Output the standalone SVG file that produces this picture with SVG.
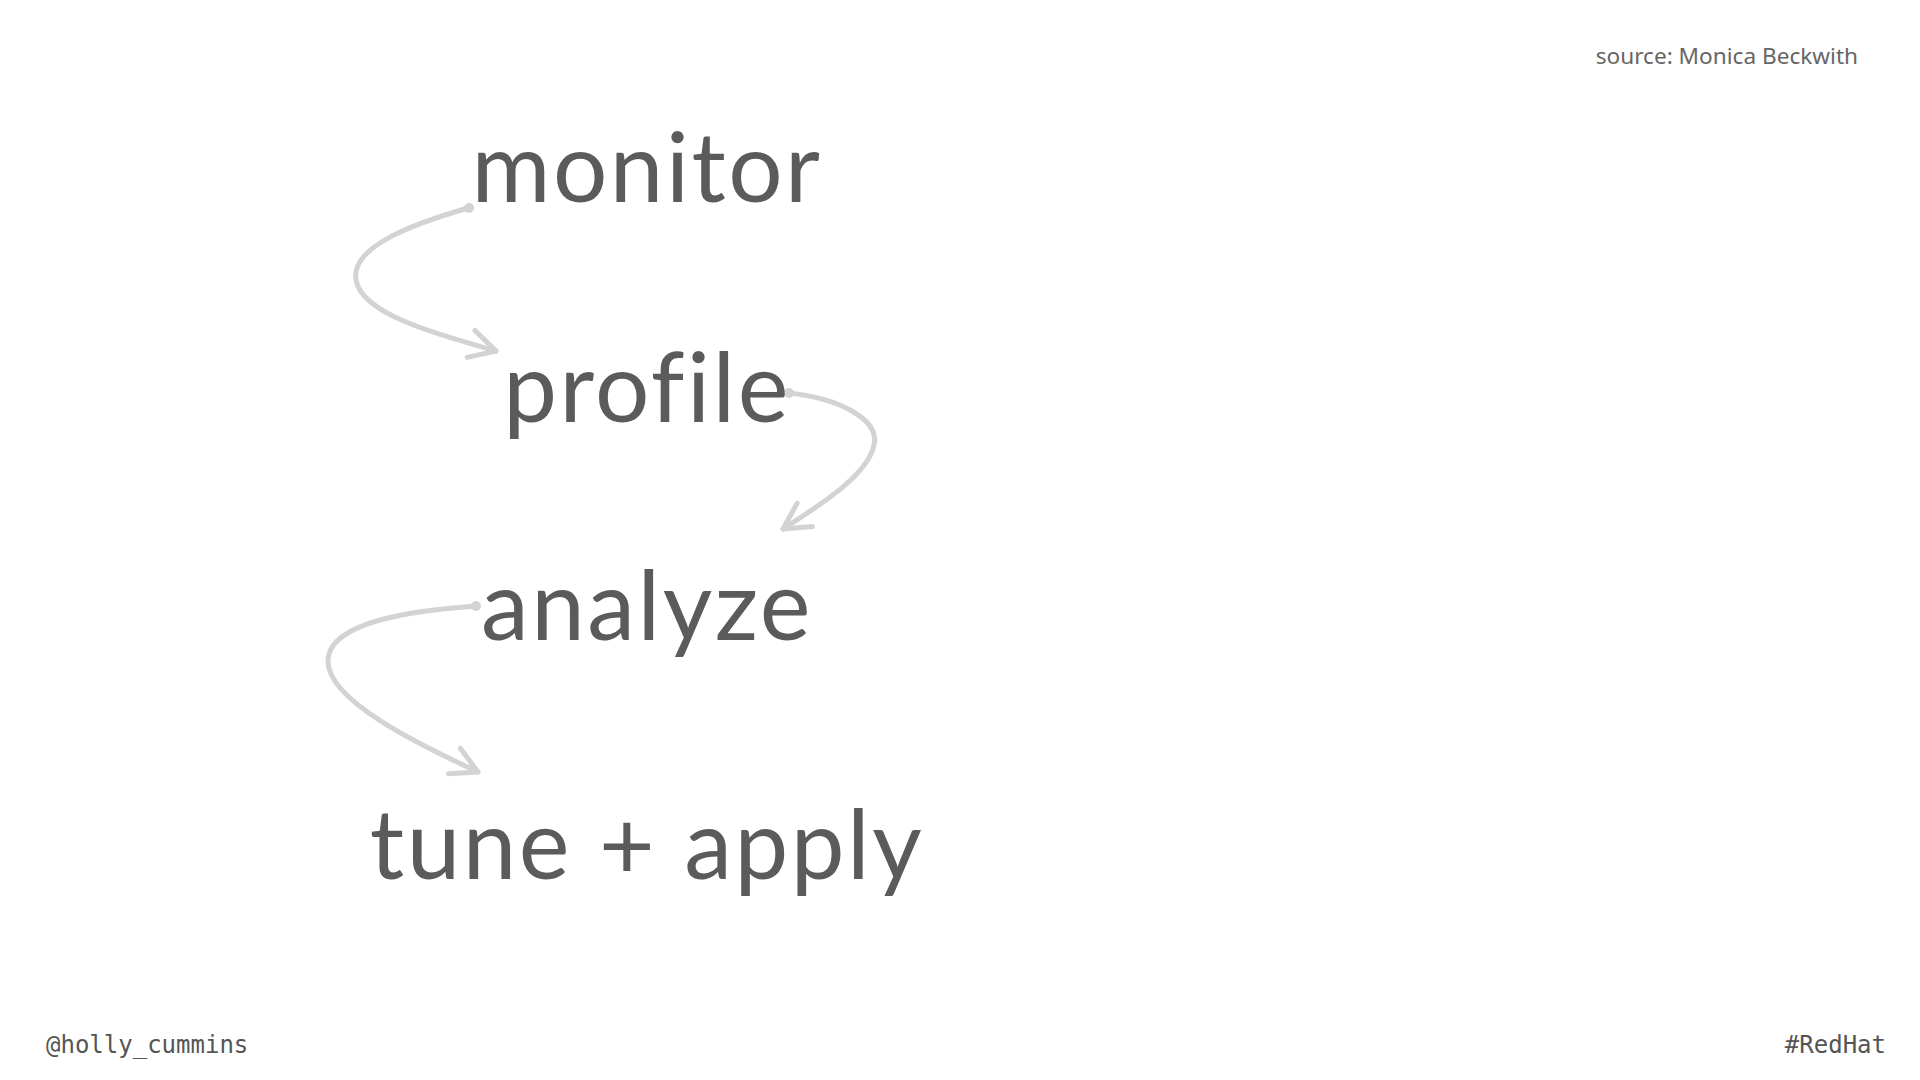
<svg xmlns="http://www.w3.org/2000/svg" width="1920" height="1080" viewBox="0 0 1920 1080">
  <defs>
    <style>
      .step { font-family: Lato, "Open Sans", sans-serif; font-size: 96px; fill: #5b5b5b; text-anchor: middle; letter-spacing: 2.5px; font-variant-ligatures: none; }
      .src { font-family: "Noto Sans", "Open Sans", sans-serif; font-size: 22.6px; fill: #666666; text-anchor: end; }
      .foot { font-family: "DejaVu Sans Mono", "Liberation Mono", monospace; font-size: 24px; fill: #555555; }
      .conn { fill: none; stroke: #d3d3d3; stroke-width: 5; stroke-linecap: round; stroke-linejoin: round; }
    </style>
    <marker id="arr" markerUnits="userSpaceOnUse" markerWidth="40" markerHeight="40" viewBox="-34 -20 40 40" refX="0" refY="0" orient="auto">
      <path d="M-26,-14 L0,0 L-26,14" fill="none" stroke="#d3d3d3" stroke-width="5" stroke-linecap="round" stroke-linejoin="round"/>
    </marker>
  </defs>
  <rect width="1920" height="1080" fill="#ffffff"/>

  <g id="connectors">
    <path class="conn" d="M468,208 C420,222 350,245 356,280 C362,315 440,335 496,351" marker-end="url(#arr)"/>
    <path class="conn" d="M788,393 C840,398 880,420 874,445 C868,475 820,505 783,529" marker-end="url(#arr)"/>
    <path class="conn" d="M476,606 C420,610 330,620 328,660 C326,700 420,745 478,772" marker-end="url(#arr)"/>
    <circle cx="469" cy="208" r="5" fill="#d3d3d3"/>
    <circle cx="789" cy="393" r="5" fill="#d3d3d3"/>
    <circle cx="476" cy="606" r="5" fill="#d3d3d3"/>
  </g>

  <g id="node-monitor"><text class="step" x="647" y="202">monitor</text></g>
  <g id="node-profile"><text class="step" x="647" y="422">profile</text></g>
  <g id="node-analyze"><text class="step" x="647" y="640">analyze</text></g>
  <g id="node-tune"><text class="step" x="647" y="879">tune + apply</text></g>

  <g id="source"><text class="src" x="1858" y="64">source: Monica Beckwith</text></g>
  <g id="footer-left"><text class="foot" x="46" y="1053">@holly_cummins</text></g>
  <g id="footer-right"><text class="foot" x="1886" y="1053" text-anchor="end">#RedHat</text></g>
</svg>
